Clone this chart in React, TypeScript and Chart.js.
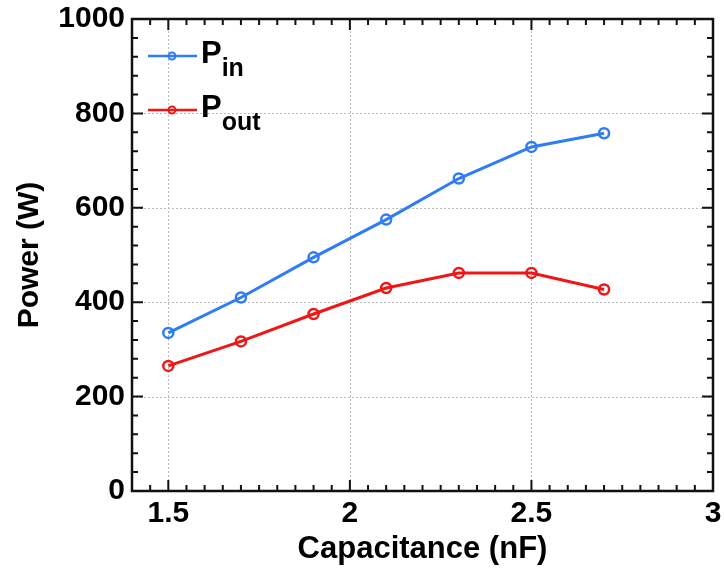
import React, { useEffect, useRef } from 'react';
import { Chart, registerables } from 'chart.js';

Chart.register(...registerables);

// Measured power versus tuning capacitance
const CAPACITANCE = [1.5, 1.7, 1.9, 2.1, 2.3, 2.5, 2.7];
const POWER_IN = [335, 410, 495, 575, 662, 729, 758];
const POWER_OUT = [265, 317, 375, 430, 462, 462, 427];

const SERIES_MAIN = 'P';
const SERIES_SUBSCRIPTS = ['in', 'out'];
const SERIES_COLORS = ['#2f7cf6', '#f01616'];

const X_TICKS = [1.5, 2, 2.5, 3];
const Y_TICKS = [0, 200, 400, 600, 800, 1000];
const X_RANGE = [1.4, 3];
const Y_RANGE = [0, 1000];
const X_MINOR_STEP = 0.05;
const Y_MINOR_STEP = 40;

const X_TITLE = 'Capacitance (nF)';
const Y_TITLE = 'Power (W)';

const FONT_FAMILY = '"Liberation Sans", Arial, Helvetica, sans-serif';

function stepValues(min: number, max: number, step: number): number[] {
  const out: number[] = [];
  const n = Math.round((max - min) / step);
  for (let i = 0; i <= n; i++) out.push(+(min + i * step).toFixed(6));
  return out;
}

function isMajor(v: number, majors: number[]): boolean {
  return majors.some((m) => Math.abs(m - v) < 1e-6);
}

// Dotted grid under the data, boxed frame with inward ticks on top
const framePlugin = {
  id: 'boxFrame',
  beforeDatasetsDraw(chart: any) {
    const { ctx, chartArea: a, scales } = chart;
    const x = scales.x;
    const y = scales.y;
    ctx.save();
    ctx.strokeStyle = '#bdbdbd';
    ctx.lineWidth = 1;
    ctx.setLineDash([2, 2]);
    X_TICKS.forEach((v) => {
      const px = Math.round(x.getPixelForValue(v)) + 0.5;
      if (px > a.left + 2 && px < a.right - 2) {
        ctx.beginPath();
        ctx.moveTo(px, a.top);
        ctx.lineTo(px, a.bottom);
        ctx.stroke();
      }
    });
    Y_TICKS.forEach((v) => {
      const py = Math.round(y.getPixelForValue(v)) + 0.5;
      if (py > a.top + 2 && py < a.bottom - 2) {
        ctx.beginPath();
        ctx.moveTo(a.left, py);
        ctx.lineTo(a.right, py);
        ctx.stroke();
      }
    });
    ctx.restore();
  },
  afterDatasetsDraw(chart: any) {
    const { ctx, chartArea: a, scales } = chart;
    const x = scales.x;
    const y = scales.y;
    ctx.save();
    ctx.strokeStyle = '#111';
    ctx.lineWidth = 2;
    ctx.beginPath();
    stepValues(X_RANGE[0], X_RANGE[1], X_MINOR_STEP).forEach((v) => {
      const len = isMajor(v, X_TICKS) ? 11 : 6;
      const px = x.getPixelForValue(v);
      ctx.moveTo(px, a.bottom);
      ctx.lineTo(px, a.bottom - len);
      ctx.moveTo(px, a.top);
      ctx.lineTo(px, a.top + len);
    });
    stepValues(Y_RANGE[0], Y_RANGE[1], Y_MINOR_STEP).forEach((v) => {
      const len = isMajor(v, Y_TICKS) ? 11 : 6;
      const py = y.getPixelForValue(v);
      ctx.moveTo(a.left, py);
      ctx.lineTo(a.left + len, py);
      ctx.moveTo(a.right, py);
      ctx.lineTo(a.right - len, py);
    });
    ctx.stroke();
    ctx.lineWidth = 2.5;
    ctx.strokeRect(a.left, a.top, a.right - a.left, a.bottom - a.top);
    ctx.restore();
  },
};

// Legend with subscripted series names
const subscriptLegend = {
  id: 'subscriptLegend',
  afterDraw(chart: any) {
    const { ctx } = chart;
    ctx.save();
    chart.data.datasets.forEach((ds: any, i: number) => {
      const rowY = 56 + i * 54;
      ctx.strokeStyle = ds.borderColor;
      ctx.lineWidth = 2.5;
      ctx.beginPath();
      ctx.moveTo(148, rowY);
      ctx.lineTo(197, rowY);
      ctx.stroke();
      ctx.lineWidth = 2;
      ctx.beginPath();
      ctx.arc(172, rowY, 3.5, 0, Math.PI * 2);
      ctx.stroke();
      ctx.fillStyle = '#000';
      ctx.textBaseline = 'alphabetic';
      ctx.textAlign = 'left';
      ctx.font = `bold 31px ${FONT_FAMILY}`;
      ctx.fillText(SERIES_MAIN, 201, rowY + 7);
      const w = ctx.measureText(SERIES_MAIN).width;
      ctx.font = `bold 25px ${FONT_FAMILY}`;
      ctx.fillText(SERIES_SUBSCRIPTS[i], 201 + w, rowY + 20);
    });
    ctx.restore();
  },
};

export default function App() {
  const canvasRef = useRef<HTMLCanvasElement | null>(null);

  useEffect(() => {
    document.body.style.margin = '0';
    const canvas = canvasRef.current;
    if (!canvas) return;

    const makeSeries = (values: number[]) =>
      CAPACITANCE.map((c, i) => ({ x: c, y: values[i] }));

    const chart = new Chart(canvas, {
      type: 'line',
      data: {
        datasets: [POWER_IN, POWER_OUT].map((vals, i) => ({
          label: SERIES_MAIN + SERIES_SUBSCRIPTS[i],
          data: makeSeries(vals),
          borderColor: SERIES_COLORS[i],
          backgroundColor: SERIES_COLORS[i],
          borderWidth: 3,
          pointRadius: 5,
          pointBorderWidth: 2.5,
          pointBackgroundColor: 'rgba(0,0,0,0)',
          pointBorderColor: SERIES_COLORS[i],
          tension: 0,
        })),
      },
      options: {
        responsive: false,
        animation: false,
        devicePixelRatio: 1,
        layout: { padding: { left: 0, top: 19, right: 11, bottom: 0 } },
        plugins: {
          legend: { display: false },
          tooltip: { enabled: false },
        },
        scales: {
          x: {
            type: 'linear',
            min: X_RANGE[0],
            max: X_RANGE[1],
            afterBuildTicks: (s: any) => {
              s.ticks = X_TICKS.map((v) => ({ value: v }));
            },
            afterFit: (s: any) => {
              s.height = 78;
              s.paddingLeft = 0;
              s.paddingRight = 0;
            },
            grid: { display: false, drawTicks: false },
            border: { display: false },
            ticks: {
              padding: 5,
              color: '#000',
              maxRotation: 0,
              autoSkip: false,
              font: { family: FONT_FAMILY, size: 30, weight: 'bold' },
              callback: (v: any) => String(v),
            },
            title: {
              display: true,
              text: X_TITLE,
              color: '#000',
              padding: { top: 0, bottom: 1 },
              font: { family: FONT_FAMILY, size: 31, weight: 'bold' },
            },
          },
          y: {
            type: 'linear',
            min: Y_RANGE[0],
            max: Y_RANGE[1],
            afterBuildTicks: (s: any) => {
              s.ticks = Y_TICKS.map((v) => ({ value: v }));
            },
            afterFit: (s: any) => {
              s.width = 132;
              s.paddingTop = 0;
              s.paddingBottom = 0;
            },
            grid: { display: false, drawTicks: false },
            border: { display: false },
            ticks: {
              padding: 7,
              color: '#000',
              autoSkip: false,
              font: { family: FONT_FAMILY, size: 30, weight: 'bold' },
              callback: (v: any) => String(v),
            },
            title: {
              display: true,
              text: Y_TITLE,
              color: '#000',
              padding: { top: 12, bottom: 0 },
              font: { family: FONT_FAMILY, size: 30, weight: 'bold' },
            },
          },
        },
      },
      plugins: [framePlugin, subscriptLegend],
    } as any);

    return () => chart.destroy();
  }, []);

  return (
    <div style={{ position: 'relative', width: 724, height: 569, background: '#fff' }}>
      <canvas ref={canvasRef} width={724} height={569} />
    </div>
  );
}
